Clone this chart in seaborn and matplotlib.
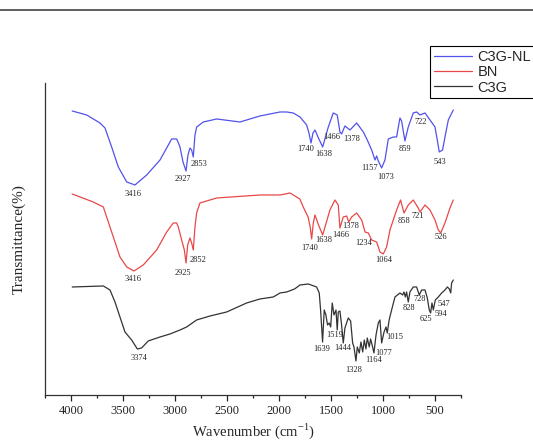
import matplotlib.pyplot as plt
import seaborn as sns
from matplotlib.lines import Line2D
from matplotlib.ticker import MultipleLocator

# C3G-NL spectrum (wavenumber, transmittance in arbitrary units)
nl_wn = [3988, 3849, 3721, 3673, 3609, 3545, 3464, 3385, 3272, 3144, 3032, 2984, 2971, 2952,
         2923, 2894, 2875, 2856, 2840, 2824, 2808, 2791, 2728, 2599, 2375, 2183, 1990, 1926,
         1863, 1798, 1734, 1712, 1692, 1673, 1654, 1625, 1580, 1526, 1478, 1440, 1414, 1398,
         1366, 1317, 1253, 1189, 1151, 1109, 1077, 1061, 1045, 1013, 981, 949, 901, 869, 837,
         821, 789, 757, 709, 677, 644, 596, 548, 500, 478, 459, 427, 404, 372, 324]
nl_t = [284, 280, 272, 267, 248, 228, 213, 210, 220, 235, 256, 256, 253, 248,
        233, 224, 240, 247, 245, 238, 260, 268, 273, 276, 273, 279, 283, 283,
        282, 278, 270, 262, 252, 262, 265, 258, 248, 268, 282, 280, 263, 261,
        269, 265, 272, 263, 255, 245, 235, 239, 234, 227, 235, 256, 258, 258, 277,
        274, 254, 268, 282, 283, 280, 282, 275, 268, 255, 243, 245, 258, 275, 285]

# BN spectrum
bn_wn = [3988, 3786, 3689, 3657, 3593, 3529, 3464, 3394, 3305, 3176, 3080, 3016, 2984, 2968,
         2936, 2910, 2894, 2878, 2856, 2840, 2824, 2808, 2792, 2760, 2599, 2183, 1990, 1894,
         1800, 1767, 1720, 1700, 1686, 1670, 1654, 1620, 1580, 1510, 1462, 1430, 1414, 1382,
         1349, 1330, 1301, 1253, 1205, 1173, 1141, 1109, 1061, 1029, 997, 965, 933, 869, 831,
         798, 757, 709, 661, 644, 596, 548, 500, 468, 445, 404, 356, 324]
bn_t = [201, 193, 188, 178, 158, 138, 128, 124, 130, 145, 163, 172, 172, 168,
        155, 145, 132, 150, 157, 152, 145, 168, 182, 192, 197, 200, 200, 202,
        196, 188, 178, 168, 156, 172, 180, 170, 160, 185, 195, 190, 167, 178,
        179, 173, 178, 182, 175, 163, 162, 155, 153, 143, 141, 148, 165, 185, 195,
        182, 190, 195, 187, 183, 190, 185, 175, 165, 162, 172, 187, 195]

# C3G spectrum
c3g_wn = [3988, 3689, 3625, 3577, 3529, 3481, 3417, 3362, 3321, 3257, 3144, 3048, 2952, 2888,
          2792, 2663, 2503, 2311, 2183, 2055, 1990, 1926, 1850, 1798, 1718, 1638, 1613, 1600,
          1581, 1565, 1549, 1533, 1517, 1503, 1488, 1471, 1452, 1440, 1430, 1414, 1398, 1382,
          1366, 1334, 1311, 1292, 1279, 1260, 1247, 1228, 1212, 1195, 1180, 1164, 1151, 1132,
          1119, 1100, 1087, 1067, 1045, 1029, 1013, 990, 971, 959, 941, 917, 885, 837, 811,
          798, 785, 773, 757, 741, 709, 677, 651, 628, 596, 574, 555, 542, 529, 516, 497,
          468, 436, 404, 381, 362, 349, 340, 324]
c3g_t = [108, 109, 105, 93, 78, 63, 55, 46, 47, 54, 58, 61, 65, 68,
         75, 79, 83, 92, 96, 98, 102, 103, 106, 110, 111, 108, 102, 85,
         53, 85, 80, 70, 72, 68, 92, 80, 85, 65, 83, 84, 70, 52,
         67, 77, 74, 52, 48, 34, 48, 42, 53, 43, 55, 46, 57, 48,
         56, 48, 42, 60, 72, 75, 52, 63, 68, 62, 75, 85, 98, 102, 100,
         103, 98, 103, 93, 103, 108, 108, 100, 105, 105, 97, 85, 82, 92, 85, 95,
         98, 102, 105, 108, 106, 102, 112, 115]

# peak labels: text, wavenumber, height
nl_lab = ["3416", "2927", "2853", "1740", "1638", "1466", "1378", "1157", "1073", "859", "722", "543"]
nl_lab_x = [3407, 2920, 2766, 1740, 1565, 1494, 1301, 1132, 978, 789, 641, 449]
nl_lab_y = [201, 216, 231, 246, 241, 258, 256, 227, 218, 246, 273, 233]

bn_lab = ["3416", "2925", "2852", "1740", "1638", "1466", "1378", "1234", "1064", "858", "721", "526"]
bn_lab_x = [3407, 2926, 2776, 1702, 1574, 1407, 1311, 1189, 997, 798, 661, 445]
bn_lab_y = [116, 122, 135, 147, 155, 160, 169, 152, 135, 174, 179, 158]

c3g_lab = ["3374", "1639", "1519", "1444", "1328", "1164", "1077", "1015", "828", "728", "625", "594", "547"]
c3g_lab_x = [3346, 1590, 1468, 1391, 1279, 1093, 997, 891, 747, 644, 587, 445, 414]
c3g_lab_y = [37, 46, 60, 47, 25, 35, 42, 58, 87, 96, 76, 81, 91]

sns.set_style('ticks')
plt.rcParams['font.family'] = ['Liberation Serif', 'DejaVu Serif']

fig = plt.figure(figsize=(5.33, 4.44), dpi=100)
ax = fig.add_axes([0.0844, 0.1104, 0.7805, 0.7027])

series = [
    (nl_wn, nl_t, 'C3G-NL', '#5252ec', nl_lab, nl_lab_x, nl_lab_y),
    (bn_wn, bn_t, 'BN', '#e84848', bn_lab, bn_lab_x, bn_lab_y),
    (c3g_wn, c3g_t, 'C3G', '#333333', c3g_lab, c3g_lab_x, c3g_lab_y),
]
for wn, t, name, col, labs, lx, ly in series:
    sns.lineplot(x=wn, y=t, sort=False, estimator=None, color=col, lw=0.9,
                 label=name, ax=ax)
    for s, x, y in zip(labs, lx, ly):
        ax.text(x, y, s, fontsize=6, ha='center', va='center', color='#222222')

ax.set_xlim(4250, 250)
ax.set_ylim(0, 312)
ax.set_xticks([4000, 3500, 3000, 2500, 2000, 1500, 1000, 500])
ax.xaxis.set_minor_locator(MultipleLocator(250))
ax.tick_params(axis='x', which='major', direction='out', length=4, width=0.9,
               labelsize=9, pad=3, colors='#222222')
ax.tick_params(axis='x', which='minor', direction='out', length=2, width=0.9)
ax.set_yticks([])
sns.despine(ax=ax)
for sp in ['left', 'bottom']:
    ax.spines[sp].set_color('#333333')
    ax.spines[sp].set_linewidth(0.9)

ax.set_xlabel('Wavenumber (cm$^{\\mathregular{-1}}$)', fontsize=10.5, labelpad=3)
ax.set_ylabel('Transmittance(%)', fontsize=11, labelpad=14)

leg = ax.legend(loc='upper left', bbox_to_anchor=(430 / 533, 1 - 46 / 444),
                bbox_transform=fig.transFigure, borderaxespad=0, fancybox=False,
                framealpha=1, edgecolor='black', handlelength=2.6, handletextpad=0.4,
                labelspacing=0.1, borderpad=0.25,
                prop={'family': 'Liberation Sans', 'size': 10.5})
leg.get_frame().set_linewidth(0.8)

# thin rule across the top of the image
fig.add_artist(Line2D([0, 1], [1 - 10 / 444, 1 - 10 / 444], transform=fig.transFigure,
                      color='#444444', lw=1.2))

fig.savefig('out.png', dpi=100)
